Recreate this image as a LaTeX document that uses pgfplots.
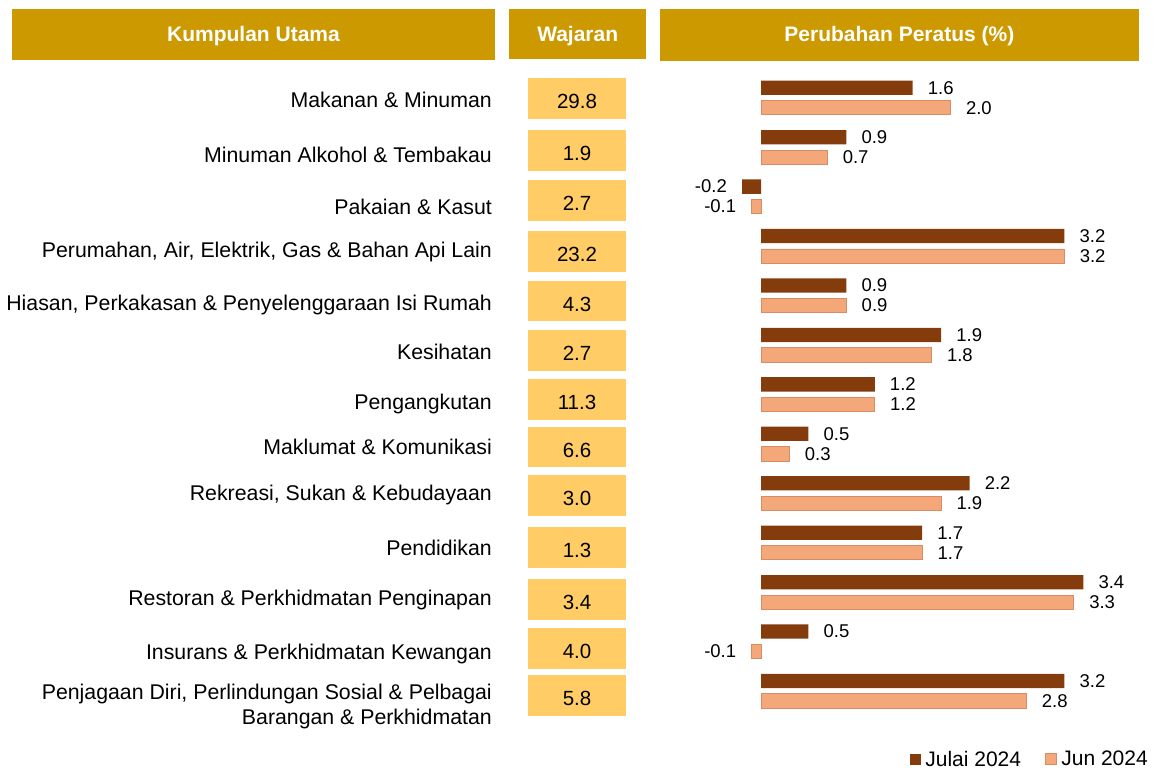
\documentclass[border=0pt]{standalone}
\usepackage{fontspec}
\setmainfont{Liberation Sans}
\usepackage{pgfplots}
\pgfplotsset{compat=1.18}
\definecolor{hdr}{RGB}{204,153,0}
\definecolor{boxc}{RGB}{255,204,102}
\definecolor{julai}{RGB}{132,60,12}
\definecolor{jun}{RGB}{244,167,120}
\definecolor{junedge}{RGB}{214,140,100}
\begin{document}
\begin{tikzpicture}
% header bands
\fill[hdr] (11.8pt,760pt) rectangle (495.2pt,709pt);
\fill[hdr] (509.2pt,760pt) rectangle (646.3pt,710pt);
\fill[hdr] (660.3pt,760pt) rectangle (1138.5pt,708pt);
\node[anchor=base,text=white,font=\fontsize{21}{25}\selectfont\bfseries] at (253.5pt,727pt) {Kumpulan Utama};
\node[anchor=base,text=white,font=\fontsize{21}{25}\selectfont\bfseries] at (577.7pt,727pt) {Wajaran};
\node[anchor=base,text=white,font=\fontsize{21}{25}\selectfont\bfseries] at (899.4pt,727pt) {Perubahan Peratus (\%)};
\begin{axis}[
  at={(492pt,705.86pt)}, anchor=north west,
  x=94.8pt, y=49.44pt,
  xmin=-2.8376, xmax=4.082, ymin=-12.7, ymax=0.7,
  axis line style={draw=none},
  xtick=\empty,
  ytick={-0.197,-1.310,-2.355,-3.231,-4.309,-5.288,-6.300,-7.222,-8.152,-9.265,-10.276,-11.356,-12.165},
  yticklabels={
    {Makanan \& Minuman},
    {Minuman Alkohol \& Tembakau},
    {Pakaian \& Kasut},
    {Perumahan, Air, Elektrik, Gas \& Bahan Api Lain},
    {Hiasan, Perkakasan \& Penyelenggaraan Isi Rumah},
    {Kesihatan},
    {Pengangkutan},
    {Maklumat \& Komunikasi},
    {Rekreasi, Sukan \& Kebudayaan},
    {Pendidikan},
    {Restoran \& Perkhidmatan Penginapan},
    {Insurans \& Perkhidmatan Kewangan},
    {\begin{tabular}[t]{@{}r@{}}Penjagaan Diri, Perlindungan Sosial \& Pelbagai\\Barangan \& Perkhidmatan\end{tabular}}
  },
  major tick length=0pt,
  ytick style={draw=none},
  yticklabel style={anchor=base east, inner sep=0pt, font=\fontsize{21.3}{25}\selectfont},
  clip=false,
  legend columns=2,
  legend style={at={(axis cs:4.082,-13.38)}, anchor=east, draw=none, fill=none,
    inner sep=0pt, font=\fontsize{21}{25}\selectfont,
    nodes={inner sep=0pt},
    /tikz/every even column/.append style={column sep=24pt}},
  legend image code/.code={\fill[#1] (0pt,-5.5pt) rectangle (11pt,5.5pt); \path (15.5pt,0pt);},
]
% Wajaran boxes
\addplot[draw=none, mark=none, forget plot, nodes near coords, point meta=explicit symbolic,
  every node near coord/.append style={anchor=center, fill=boxc, minimum width=98pt, minimum height=40.5pt,
    text height=20pt, text depth=0pt, inner sep=0pt, font=\fontsize{20.5}{24}\selectfont, text=black}]
  coordinates {
  (-1.941,-0.015) [29.8]
  (-1.941,-1.063) [1.9]
  (-1.941,-2.082) [2.7]
  (-1.941,-3.106) [23.2]
  (-1.941,-4.115) [4.3]
  (-1.941,-5.112) [2.7]
  (-1.941,-6.108) [11.3]
  (-1.941,-7.068) [6.6]
  (-1.941,-8.041) [3.0]
  (-1.941,-9.093) [1.3]
  (-1.941,-10.149) [3.4]
  (-1.941,-11.144) [4.0]
  (-1.941,-12.090) [5.8]
  };
% Julai 2024
\addplot[xbar, bar width=14.3pt, bar shift=10pt, fill=julai, draw=none,
  point meta=x, nodes near coords, nodes near coords align=horizontal,
  nodes near coords={\pgfmathprintnumber[fixed,fixed zerofill,precision=1,assume math mode=true]{\pgfplotspointmeta}},
  every node near coord/.append style={font=\fontsize{18.5}{22}\selectfont, text=black, inner xsep=15pt, inner ysep=0pt, yshift=10pt}]
  coordinates {(1.6,0) (0.9,-1) (-0.2,-2) (3.2,-3) (0.9,-4) (1.9,-5) (1.2,-6) (0.5,-7) (2.2,-8) (1.7,-9) (3.4,-10) (0.5,-11) (3.2,-12)};
\addlegendentry{Julai 2024}
% Jun 2024
\addplot[xbar, bar width=14.3pt, bar shift=-10pt, fill=jun, draw=junedge, line width=0.8pt,
  point meta=x, nodes near coords, nodes near coords align=horizontal,
  nodes near coords={\pgfmathprintnumber[fixed,fixed zerofill,precision=1,assume math mode=true]{\pgfplotspointmeta}},
  every node near coord/.append style={font=\fontsize{18.5}{22}\selectfont, text=black, inner xsep=15pt, inner ysep=0pt, yshift=-10pt}]
  coordinates {(2.0,0) (0.7,-1) (-0.1,-2) (3.2,-3) (0.9,-4) (1.8,-5) (1.2,-6) (0.3,-7) (1.9,-8) (1.7,-9) (3.3,-10) (-0.1,-11) (2.8,-12)};
\addlegendentry{Jun 2024}
\end{axis}
\pgfresetboundingbox
\path[use as bounding box] (0,0) rectangle (1155pt,769pt);
\end{tikzpicture}
\end{document}
